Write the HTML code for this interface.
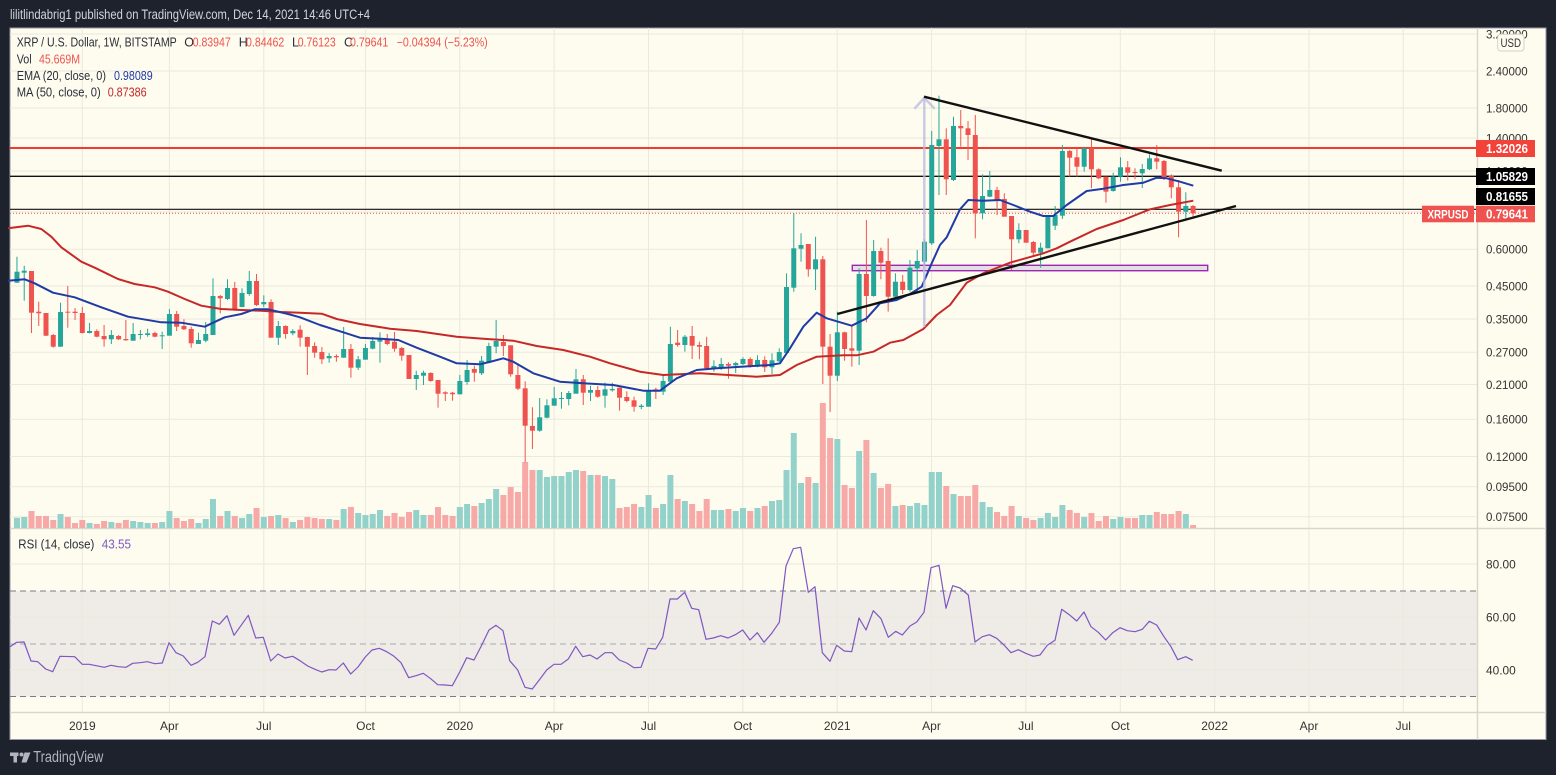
<!DOCTYPE html>
<html><head><meta charset="utf-8"><style>
html,body{margin:0;padding:0;background:#1e222d;width:1556px;height:775px;overflow:hidden}
svg{display:block}
text{font-family:"Liberation Sans",sans-serif}
</style></head><body>
<svg id="s" width="1556" height="775" viewBox="0 0 1556 775" xmlns="http://www.w3.org/2000/svg">
<rect x="0" y="0" width="1556" height="775" fill="#1e222d"/>
<text x="10" y="19" font-size="13.5" fill="#d1d4dc" textLength="360" lengthAdjust="spacingAndGlyphs">lilitlindabrig1 published on TradingView.com, Dec 14, 2021 14:46 UTC+4</text>
<rect x="10" y="28" width="1536" height="711.5" fill="#fefcef" stroke="#9598a1" stroke-width="1"/>
<!-- RSI band -->
<rect x="10.5" y="591" width="1466.5" height="105.5" fill="#efebe6"/>
<!-- vertical grid -->
<g stroke="#ebe9dc" stroke-width="1">
<line x1="82.3" y1="28" x2="82.3" y2="712"/><line x1="169.4" y1="28" x2="169.4" y2="712"/><line x1="263.8" y1="28" x2="263.8" y2="712"/><line x1="365.5" y1="28" x2="365.5" y2="712"/><line x1="459.8" y1="28" x2="459.8" y2="712"/><line x1="554.1" y1="28" x2="554.1" y2="712"/><line x1="648.5" y1="28" x2="648.5" y2="712"/><line x1="742.8" y1="28" x2="742.8" y2="712"/><line x1="837.2" y1="28" x2="837.2" y2="712"/><line x1="931.5" y1="28" x2="931.5" y2="712"/><line x1="1025.9" y1="28" x2="1025.9" y2="712"/><line x1="1120.3" y1="28" x2="1120.3" y2="712"/><line x1="1214.6" y1="28" x2="1214.6" y2="712"/><line x1="1309" y1="28" x2="1309" y2="712"/><line x1="1403.3" y1="28" x2="1403.3" y2="712"/>
</g>
<!-- horizontal grid main -->
<g stroke="#ebe9dc" stroke-width="1">
<line x1="10" y1="34" x2="1477" y2="34"/><line x1="10" y1="71" x2="1477" y2="71"/><line x1="10" y1="108" x2="1477" y2="108"/><line x1="10" y1="138" x2="1477" y2="138"/><line x1="10" y1="171" x2="1477" y2="171"/><line x1="10" y1="212" x2="1477" y2="212"/><line x1="10" y1="249.3" x2="1477" y2="249.3"/><line x1="10" y1="286" x2="1477" y2="286"/><line x1="10" y1="319" x2="1477" y2="319"/><line x1="10" y1="352.3" x2="1477" y2="352.3"/><line x1="10" y1="384.5" x2="1477" y2="384.5"/><line x1="10" y1="419.3" x2="1477" y2="419.3"/><line x1="10" y1="456.5" x2="1477" y2="456.5"/><line x1="10" y1="486.7" x2="1477" y2="486.7"/><line x1="10" y1="516.8" x2="1477" y2="516.8"/>
<line x1="10" y1="564" x2="1477" y2="564"/><line x1="10" y1="617" x2="1477" y2="617"/><line x1="10" y1="670" x2="1477" y2="670"/>
</g>
<!-- RSI dashed levels -->
<line x1="10" y1="591" x2="1477" y2="591" stroke="#787b86" stroke-width="1" stroke-dasharray="6,4"/>
<line x1="10" y1="644" x2="1477" y2="644" stroke="#a9a9ad" stroke-width="1" stroke-dasharray="6,4"/>
<line x1="10" y1="696.5" x2="1477" y2="696.5" stroke="#787b86" stroke-width="1" stroke-dasharray="6,4"/>
<!-- separators -->
<line x1="10" y1="528.5" x2="1546" y2="528.5" stroke="#d9d7cc" stroke-width="1.5"/>
<line x1="10" y1="712.5" x2="1546" y2="712.5" stroke="#d9d7cc" stroke-width="1.5"/>
<line x1="1477.5" y1="28" x2="1477.5" y2="739.5" stroke="#d9d7cc" stroke-width="1.5"/>
<g id="vol"></g>
<!-- horizontal drawings -->
<line x1="10" y1="148" x2="1477" y2="148" stroke="#f23a2f" stroke-width="2"/>
<line x1="10" y1="176.3" x2="1477" y2="176.3" stroke="#111" stroke-width="1.4"/>
<line x1="10" y1="209.3" x2="1477" y2="209.3" stroke="#111" stroke-width="1.2"/>
<line x1="10" y1="213.3" x2="1477" y2="213.3" stroke="#ef5350" stroke-width="1" stroke-dasharray="1,2"/>
<!-- purple rect -->
<rect x="852.3" y="265.3" width="355.4" height="5.4" fill="#e4dfe4" stroke="#9c27b0" stroke-width="1.4"/>
<g id="cnd"></g>
<!-- MA50 -->
<polyline fill="none" stroke="#c62828" stroke-width="2" stroke-linejoin="round" points="8,228.3 28,225.7 41.3,229 51.3,236.7 61.3,247.3 81.3,261.7 94.7,267.7 118,279 134.7,284 154.7,287.3 168,291.7 184.7,299 201.3,305.7 221.3,309 241.3,310 261.3,310.7 281.3,312 300,312.7 321.7,313.7 336.7,319 360,324 390,328.7 416.7,331 456.7,336.7 486.7,339 513.3,340.7 536.7,346 563.3,350 590,356.7 610,363.3 640,371.7 663.3,375 700,373.3 756.7,376.7 780,375 796.7,365 816.7,356.7 843.3,355.3 856.7,355.3 873.3,351.7 890,342.7 903.3,340 923.3,329 936.7,315 950,305 966.7,282.7 983.3,273.3 1010,262.7 1043.3,253.3 1056.7,248.3 1070,241.7 1096.7,229 1123.3,220 1150,209.3 1170,205 1193.3,200.7"/>
<!-- EMA20 -->
<polyline fill="none" stroke="#1e3ba6" stroke-width="2" stroke-linejoin="round" points="8,280.7 24.7,279.3 34.7,283.3 53,292.7 74.7,297.3 101.3,307.3 128,316.7 161.3,322.3 181.3,322.7 204.7,326.7 224.7,317.3 241.3,314 254.7,309.3 268,309.3 288,314 300,317.3 320,325 343.3,332.3 360,337.7 380,338.7 398.3,340 416.7,347.7 440,356.7 456.7,363.3 480,364.3 493.3,361 503.3,358.3 513.3,361.7 533.3,373.3 560,381.7 583.3,383.3 613.3,385 643.3,390.7 660,390.7 676.7,378.3 696.7,370 716.7,368.3 770,365 780,363.3 790,348.3 803.3,326.7 816.7,312.7 826.7,318.3 851.7,325.7 866.7,318.3 880,303.3 896.7,300 910,294 921.7,286.7 931.7,263.3 940,245 946.7,237.3 960,209.3 968.3,200 983.3,200.7 1000,200 1013.3,205 1030,211.7 1043.3,216 1053.3,216 1066.7,205 1086.7,191 1103.3,188.7 1123.3,185 1143.3,182.7 1156.7,177.7 1166.7,178.3 1180,181.7 1193.3,185.7"/>
<!-- arrow -->
<g stroke="#b9b9e0" stroke-opacity="0.75" stroke-width="2.5" fill="none" stroke-linecap="round">
<line x1="924.3" y1="326" x2="924.3" y2="98"/>
<polyline points="915,108 924.3,98 934,108"/>
</g>
<!-- trend lines -->
<line x1="924" y1="96.7" x2="1221.7" y2="170.7" stroke="#111" stroke-width="2.4"/>
<line x1="837.3" y1="314" x2="1236" y2="206" stroke="#111" stroke-width="2.4"/>
<!-- RSI line -->
<polyline fill="none" stroke="#7e57c2" stroke-width="1.2" stroke-linejoin="round" points="10,646.7 16.7,642.3 24,642 31,661 37.7,661.7 45.7,669 52.7,671.7 60,656.3 74.7,656.7 82.3,664.3 89.3,664.3 104.3,667.3 111,665.3 118.3,666.7 126,667.3 132.7,663.3 140,662.7 147.3,661.7 155,663.7 162.3,663 169,642.7 176,652.7 183.3,656 191,665.3 197.7,662.3 205,656.7 212.3,621 219.3,624.3 227,615.7 234,635.3 248.3,615.3 255.7,638 263.3,637.3 270.7,661 278,654 285,658 292.7,656.3 300,660.7 307.7,666 315,669.3 321.7,672 329.3,669.7 336,670 343.3,663 350.7,674 358,667 365.3,657 372,650 379.3,648.3 386.7,651.7 394,656.3 401,662.7 408.7,677.7 416,675.7 423.3,673.3 430.7,678.7 437.7,684.7 445,685 452.3,685.7 459.7,672 466.7,657.7 474,660 481.3,646 489,630 496,625.3 503,630.7 509.7,660.7 517.7,670 525,687.3 532.3,689 540,679 546.7,670 554,664.3 561,664.3 568.3,659 575.7,646.3 582.7,656.7 590,655 597,659 605,652.7 612,652.7 619.3,660 626.7,663 634,667.7 641,667.3 648,648.3 655.7,649 662.7,637.3 670,599 677.3,599 684.7,592.3 691.7,608.3 698.7,609.7 706,639.3 713.3,638 720.7,635.7 728,638 735.3,634.7 742.7,630 750,640 757.3,632.7 764,642.3 771.7,633.3 779.3,622.3 786,566 793.3,548.7 800.7,547.3 808.3,592.3 815,586.7 822.3,652.7 830,661.3 836.7,645.3 844.3,651 851.7,651.7 859,618 866,630 873.3,610.7 881,618.7 888.3,637.3 895.7,631.3 902.3,635 910,626 916.7,622 924,612.3 931,567.7 939,565.3 946,608.3 952.7,585.7 960,588 968.3,595 975,642 982.3,636.7 989.3,634.7 996.7,638.3 1004,645 1011,652.7 1018.3,649.7 1025.7,653.3 1033.3,656.3 1040,655 1047.3,645.3 1055,640.3 1061.7,609.3 1069.3,614.7 1076.7,621 1084,612 1091,626.7 1098.3,632.3 1105.7,640 1112.7,632.7 1120,627.7 1127.3,630.7 1135,631.7 1142.3,629.3 1149.3,621.3 1156.7,625 1164,636.7 1171,646.7 1177.7,659.7 1185.7,656.7 1192.7,660.3"/>
<!-- legends -->
<g font-size="12.5" fill="#2a2e39">
<text x="16.7" y="46.7" textLength="160" lengthAdjust="spacingAndGlyphs">XRP / U.S. Dollar, 1W, BITSTAMP</text>
<text x="184.3" y="46.7">O</text><text x="192.7" y="46.7" fill="#ef5350" textLength="38" lengthAdjust="spacingAndGlyphs">0.83947</text>
<text x="238.7" y="46.7">H</text><text x="246" y="46.7" fill="#ef5350" textLength="38.3" lengthAdjust="spacingAndGlyphs">0.84462</text>
<text x="292" y="46.7">L</text><text x="297.7" y="46.7" fill="#ef5350" textLength="38" lengthAdjust="spacingAndGlyphs">0.76123</text>
<text x="344" y="46.7">C</text><text x="350" y="46.7" fill="#ef5350" textLength="38.3" lengthAdjust="spacingAndGlyphs">0.79641</text>
<text x="396.7" y="46.7" fill="#ef5350" textLength="91" lengthAdjust="spacingAndGlyphs">−0.04394 (−5.23%)</text>
<text x="16.7" y="63.3" textLength="15" lengthAdjust="spacingAndGlyphs">Vol</text><text x="39" y="63.3" fill="#ef5350" textLength="41" lengthAdjust="spacingAndGlyphs">45.669M</text>
<text x="16.7" y="80" textLength="89.3" lengthAdjust="spacingAndGlyphs">EMA (20, close, 0)</text><text x="114" y="80" fill="#1e3ba6" textLength="38.7" lengthAdjust="spacingAndGlyphs">0.98089</text>
<text x="16.7" y="96.7" textLength="84" lengthAdjust="spacingAndGlyphs">MA (50, close, 0)</text><text x="107.7" y="96.7" fill="#c62828" textLength="39" lengthAdjust="spacingAndGlyphs">0.87386</text>
<text x="18.3" y="548.3" textLength="76" lengthAdjust="spacingAndGlyphs">RSI (14, close)</text><text x="101.7" y="548.3" fill="#7e57c2" textLength="29.3" lengthAdjust="spacingAndGlyphs">43.55</text>
</g>
<!-- price axis -->
<g font-size="12" fill="#333">
<text x="1486" y="38.5" textLength="41.7" lengthAdjust="spacingAndGlyphs">3.20000</text>
<text x="1486" y="75.3" textLength="41.7" lengthAdjust="spacingAndGlyphs">2.40000</text>
<text x="1486" y="112.3" textLength="41.7" lengthAdjust="spacingAndGlyphs">1.80000</text>
<text x="1486" y="142.3" textLength="41.7" lengthAdjust="spacingAndGlyphs">1.40000</text>
<text x="1486" y="175.3" textLength="41.7" lengthAdjust="spacingAndGlyphs">1.10000</text>
<text x="1486" y="253.5" textLength="41.7" lengthAdjust="spacingAndGlyphs">0.60000</text>
<text x="1486" y="290.3" textLength="41.7" lengthAdjust="spacingAndGlyphs">0.45000</text>
<text x="1486" y="323.3" textLength="41.7" lengthAdjust="spacingAndGlyphs">0.35000</text>
<text x="1486" y="356.5" textLength="41.7" lengthAdjust="spacingAndGlyphs">0.27000</text>
<text x="1486" y="389" textLength="41.7" lengthAdjust="spacingAndGlyphs">0.21000</text>
<text x="1486" y="423.6" textLength="41.7" lengthAdjust="spacingAndGlyphs">0.16000</text>
<text x="1486" y="460.8" textLength="41.7" lengthAdjust="spacingAndGlyphs">0.12000</text>
<text x="1486" y="491" textLength="41.7" lengthAdjust="spacingAndGlyphs">0.09500</text>
<text x="1486" y="521" textLength="41.7" lengthAdjust="spacingAndGlyphs">0.07500</text>
<text x="1486" y="568.5" textLength="29.7" lengthAdjust="spacingAndGlyphs">80.00</text>
<text x="1486" y="621.5" textLength="29.7" lengthAdjust="spacingAndGlyphs">60.00</text>
<text x="1486" y="674.5" textLength="29.7" lengthAdjust="spacingAndGlyphs">40.00</text>
</g>
<rect x="1497.7" y="34.3" width="26.3" height="16.7" rx="3" fill="#fefcef" stroke="#d4d2c8" stroke-width="1"/>
<text x="1500.5" y="47" font-size="11.5" fill="#333" textLength="20.5" lengthAdjust="spacingAndGlyphs">USD</text>
<!-- price labels -->
<rect x="1476" y="140" width="59" height="17" fill="#f2433a"/>
<text x="1486" y="152.8" font-size="12.5" font-weight="bold" fill="#fff" textLength="42" lengthAdjust="spacingAndGlyphs">1.32026</text>
<rect x="1476" y="168" width="59" height="17" fill="#000"/>
<text x="1486" y="180.8" font-size="12.5" font-weight="bold" fill="#fff" textLength="42" lengthAdjust="spacingAndGlyphs">1.05829</text>
<rect x="1476" y="188" width="59" height="17" fill="#000"/>
<text x="1486" y="200.8" font-size="12.5" font-weight="bold" fill="#fff" textLength="42" lengthAdjust="spacingAndGlyphs">0.81655</text>
<rect x="1476" y="205.7" width="59" height="16.6" fill="#ef5350"/>
<text x="1486" y="218.3" font-size="12.5" font-weight="bold" fill="#fff" textLength="42" lengthAdjust="spacingAndGlyphs">0.79641</text>
<rect x="1422" y="205.7" width="52" height="16.6" fill="#ef5350"/>
<text x="1427.5" y="218.3" font-size="12" font-weight="bold" fill="#fff" textLength="41" lengthAdjust="spacingAndGlyphs">XRPUSD</text>
<!-- time axis -->
<g font-size="12" fill="#333" text-anchor="middle">
<text x="82.3" y="730">2019</text><text x="169.4" y="730">Apr</text><text x="263.8" y="730">Jul</text><text x="365.5" y="730">Oct</text>
<text x="459.8" y="730">2020</text><text x="554.1" y="730">Apr</text><text x="648.5" y="730">Jul</text><text x="742.8" y="730">Oct</text>
<text x="837.2" y="730">2021</text><text x="931.5" y="730">Apr</text><text x="1025.9" y="730">Jul</text><text x="1120.3" y="730">Oct</text>
<text x="1214.6" y="730">2022</text><text x="1309" y="730">Apr</text><text x="1403.3" y="730">Jul</text>
</g>
<!-- footer logo -->
<g fill="#b2b5be">
<rect x="10" y="752.5" width="8.5" height="3.5"/><rect x="13.5" y="752.5" width="3.5" height="10"/>
<circle cx="21.5" cy="754.5" r="2"/>
<polygon points="24.5,752.5 30.5,752.5 26.5,762.5 21.5,762.5"/>
</g>
<text x="33.3" y="762" font-size="15.5" fill="#b2b5be" textLength="70" lengthAdjust="spacingAndGlyphs">TradingView</text>
</svg>
<script>
(function(){
var D=[
[1,280,285,279,286,521],[1,271.7,282.7,256.7,283,517.7],[1,270.7,272.7,265.7,300.7,517],[0,271,312.7,271,333,511],[0,311.7,313.3,301.7,326,516],
[0,313,335.7,313,336,516],[0,335,346.7,334,347.7,520],[1,312,346.7,302.7,346.7,514],[0,311.7,312.7,286,327.7,517],[0,311.7,313,308,320,523],
[0,313,333,307,333.5,520],[1,331,333,323,333.5,523],[0,331,336.7,329.3,337.3,524],[0,336,339.3,325,346.7,521],[1,335,339.3,330,344,522],
[0,336,339.3,335,340,523],[0,339,340.3,320,340.7,520],[1,334,340.7,323,340.7,521],[1,334,335,330,339.3,522],[1,333.3,335,328.7,336.7,523],
[0,333,336.7,331.7,337.3,523],[1,335.3,336,331.7,349,522],[1,314,335.7,309,335.7,511],[0,314,326.7,311,331,518],[0,326,329.3,319.3,330,521],
[0,329,343.3,326.7,347.7,519],[1,340,344,332.7,344,523],[1,334,340.7,322,342.3,519],[1,296,335,278.3,335,499],[0,296,298.3,295,313.3,516],
[1,288,299,279.3,300,511],[0,288,309.3,282,310.7,516],[1,293,307,288.3,307.3,518],[1,281,294,271,295.7,514],[0,281,305,274,306,508],
[1,302,304.3,295.3,307.3,517],[0,302,337.7,299.3,337.7,516],[1,326,337.7,321,345,515],[0,326,334,325.3,338.7,518],[1,331,333.3,329.3,335.3,522],
[0,329.7,337.7,325.3,346.7,520],[0,337,346.7,336.7,375,517],[0,346,352.7,342.3,357.7,518],[0,352,359.3,347,364,519],[1,356,358.3,353,362.7,519],
[0,356,357.3,354.3,361.7,520],[1,349,357.7,327,357.7,509],[0,349,367.7,344,377.7,507],[1,359.3,367.7,356,370,513],[1,348,359.7,344,359.7,515],
[1,341,348.7,337,349.3,514],[1,339.3,341.7,332.3,362.7,510],[0,339.3,344,334,345.3,516],[0,341.7,348.7,332,351.7,513],[0,348,355.7,347,360.7,517],
[0,355,379,355,379,512],[1,375,379,370.7,390,510],[1,372.7,375.7,370.7,385,515],[0,373,381,372.3,381.7,515],[0,380,393.7,380,407.7,507],
[0,392.3,393.7,391.3,401,515],[0,392.7,394.3,392,400.7,516],[1,381,394.3,375,394.3,507],[1,370,382,360,384.7,504],[0,369,372.7,365.7,381.7,506],
[1,360.7,373.3,356,375,503],[1,346,362.7,342.7,363.3,499],[1,341,346.7,320,353.3,489],[0,342,346,335,356,495],[0,345.3,374.3,345.3,376.7,487],
[0,375,388.7,364,390,492],[0,388.3,425.7,381.3,462.3,462],[0,426,430.7,407.3,449,470],[1,417.3,430.7,398,431.7,470],[1,405.3,417.7,399.3,418.3,477],
[1,398.3,405.7,387,405.7,476],[1,398,399,392,408.7,476],[1,393,399,391,405.3,472],[1,379.3,393.7,369,393.7,470],[0,379.3,392.7,375,405,471],
[1,390,392.7,385.7,401,475],[0,390,396.7,386,397.7,475],[1,389.3,395.7,382.7,407.7,476],[1,389,390.3,382.7,391.7,479],[0,387.7,397.7,387.7,410.7,508],
[0,397,401,391.3,402.3,507],[0,400.3,406.7,396.7,411.7,504],[1,405.7,407,404,409.3,507],[1,390.3,406.7,383.3,406.7,495],[0,389.3,390.7,387.7,399,508],
[1,381,391.7,375,395,504],[1,344,381.7,326.7,383.3,475],[0,342.7,345,330,346.7,499],[1,336.7,345,335,351.7,501],[0,336,345.7,326,359,504],
[0,345,346.7,341.7,359.3,511],[0,346,368.3,336.7,368.3,499],[1,366,368.3,360.3,371.7,510],[1,364,367.3,358,370,510],[0,364,365.7,362.3,378.7,509],
[1,363,365.3,361.7,373,511],[1,359,364,357.3,365,508],[0,359,367,357.3,367.7,511],[1,360,366.7,355.3,367.3,508],[0,360,367.3,356.3,372,506],
[1,360.3,367.3,353.3,374,501],[1,352,361.3,348.3,362,500],[1,287,353,273.3,353,470],[1,248.3,287.7,213.3,291.7,433],[1,245,248.7,233.3,261.7,483],
[0,244,269.3,244,276.7,477],[1,259.3,269.3,236.7,290,483],[0,259.3,346.7,256,384,403],[0,346.7,375.7,334,412,438],[1,332.3,375.7,311.7,381,439],
[0,332.3,349,331.7,360.7,485],[0,348.3,350.7,326,366.7,488],[1,274,350.7,268.3,365,451],[0,274,296,220,322.3,440],[1,251,296,240,296.7,473],
[0,251,262.7,247.7,279.3,488],[0,261,296.7,238.3,311.7,484],[1,281.7,296.7,273.3,298.3,506],[0,281.7,290,275,294,505],[1,267.7,290,260,291.7,506],
[1,261,268.3,250,291.7,503],[1,241.7,261.7,239.3,265,505],[1,145,243.3,131,245,472],[1,139.3,146,95.7,195,472],[0,139.3,179.3,128.3,195,486],
[1,126,180,116.7,181,494],[0,126,128.3,110,146.7,496],[0,128.3,135,121,160,496],[0,135,213.3,115,238.3,485],[1,196,213.3,174.3,219.3,502],
[1,190,196.7,171,197.3,507],[0,190,200,186.7,215,512],[0,199,216.7,193.3,216.7,516],[0,216,239.3,216,270,506],[1,230,239.3,223.3,243.3,516],
[0,230,242.7,230,242.7,518],[0,242,252.7,241,256.7,520],[1,247.7,252.7,242.7,267.7,518],[1,216,248.3,216,248.3,513],[1,215,225.7,206,230,517],
[1,151,215.7,145,219,505],[0,151,157.7,150,176.7,510],[0,157.3,166.7,148.3,176.7,513],[1,148.3,166.7,146.7,171.7,517],[0,148.3,169.3,138.3,188.3,513],
[0,169.3,178.3,168.3,179.3,521],[0,176.7,191.7,176.7,202.7,516],[1,176.7,191,172.7,191.7,519],[1,167.3,176.7,157.3,181.7,517],[0,167.3,172.7,161,180.7,518],
[0,172,173,168.3,179.3,518],[1,169,173.3,164,188,515],[1,158.3,169.3,154.3,170,515],[0,158.3,161.7,145,169.3,512],[0,161,179,160,180,514],
[0,176,187.3,174.3,198.3,514],[0,187.3,211.7,180,237.3,511],[1,206,211.7,192.3,219.3,514],[0,206,213.3,205,218.3,525]
];
var NS="http://www.w3.org/2000/svg";
var cg=document.getElementById("cnd"),vg=document.getElementById("vol");
function el(tag,a,p){var e=document.createElementNS(NS,tag);for(var k in a)e.setAttribute(k,a[k]);p.appendChild(e);return e;}
for(var i=0;i<D.length;i++){
 var d=D[i],x=9.7+7.26*i;
 if(x<10.5)continue;
 var up=d[0]===1,col=up?"#26a69a":"#ef5350",vcol=up?"#93d2ca":"#f6a9a6";
 el("rect",{x:(x-3).toFixed(2),y:d[5],width:6,height:(528-d[5]).toFixed(2),fill:vcol},vg);
 el("line",{x1:x.toFixed(2),y1:d[3],x2:x.toFixed(2),y2:d[4],stroke:col,"stroke-width":1},cg);
 var h=Math.max(1,d[2]-d[1]);
 el("rect",{x:(x-2.5).toFixed(2),y:d[1],width:5,height:h.toFixed(2),fill:col},cg);
}
})();
</script>
</body></html>
